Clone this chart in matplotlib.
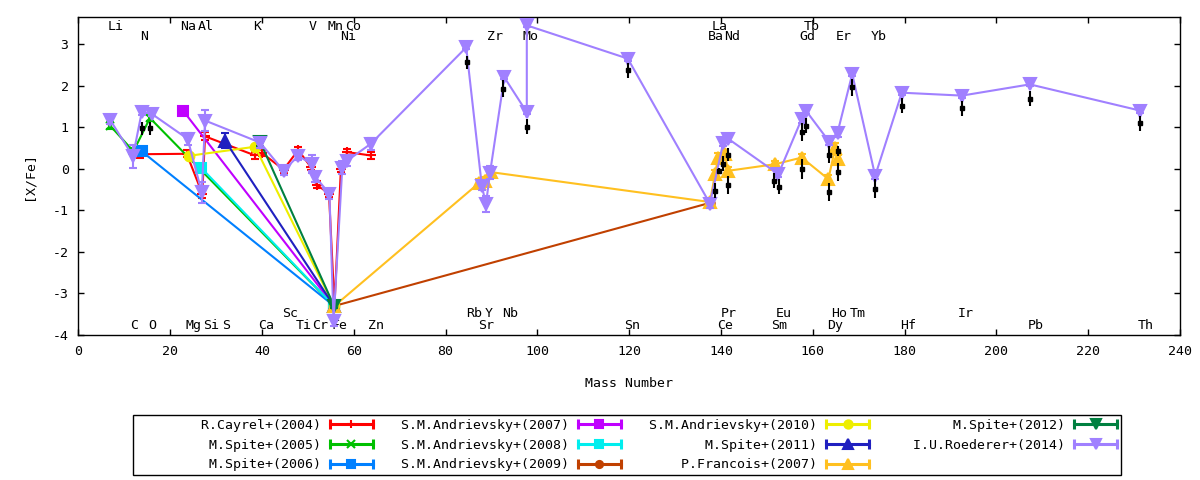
import matplotlib
matplotlib.use('Agg')
import matplotlib.pyplot as plt
from matplotlib.lines import Line2D
from matplotlib.legend_handler import HandlerLine2D, HandlerTuple

plt.rcParams['font.family'] = ['DejaVu Sans Mono']
plt.rcParams['font.size'] = 9.5
plt.rcParams['axes.unicode_minus'] = False

# element labels: symbol, x position, y position
top_syms = ['Li', 'Na', 'Al', 'K', 'V', 'Mn', 'Co', 'La', 'Tb']
top_x = [8.2, 23.9, 27.8, 38.9, 51.1, 56.1, 59.8, 139.8, 159.8]
top2_syms = ['N', 'Ni', 'Zr', 'Mo', 'Ba', 'Nd', 'Gd', 'Er', 'Yb']
top2_x = [14.3, 58.7, 90.8, 98.6, 138.9, 142.4, 158.8, 166.8, 174.4]
bot_syms = ['C', 'O', 'Mg', 'Si', 'S', 'Ca', 'Ti', 'Cr', 'Fe', 'Zn', 'Sr', 'Sn',
            'Ce', 'Sm', 'Dy', 'Hf', 'Pb', 'Th']
bot_x = [12.1, 16.1, 25.0, 28.9, 32.2, 40.9, 49.2, 52.7, 56.8, 64.9, 88.8, 120.6,
         140.9, 152.7, 164.9, 180.8, 208.6, 232.6]
bot2_syms = ['Sc', 'Rb', 'Y', 'Nb', 'Pr', 'Eu', 'Ho', 'Tm', 'Ir']
bot2_x = [46.1, 86.2, 89.3, 94.0, 141.7, 153.7, 165.7, 169.8, 193.4]

# data sets
cayrel_x = [13.5, 23.6, 27.0, 27.6, 38.5, 40.0, 44.7, 47.9, 50.6, 51.9, 54.6, 55.8, 57.2, 58.6, 63.7]
cayrel_y = [0.35, 0.36, -0.6, 0.78, 0.32, 0.38, -0.02, 0.45, 0.05, -0.38, -0.6, -3.3, 0.0, 0.4, 0.32]
cayrel_e = [0.08, 0.08, 0.1, 0.1, 0.08, 0.08, 0.08, 0.08, 0.08, 0.08, 0.08, 0.05, 0.08, 0.08, 0.08]

spite05_x = [6.9, 12.0, 15.6, 55.7]
spite05_y = [1.04, 0.42, 1.22, -3.3]
spite05_e = [0.08, 0.08, 0.08, 0.05]

spite06_x = [13.8, 55.7]
spite06_y = [0.42, -3.3]
spite06_e = [0.05, 0.05]

andr07_x = [22.8, 55.7]
andr07_y = [1.4, -3.3]
andr07_e = [0.05, 0.05]

andr08_x = [26.7, 55.7]
andr08_y = [0.03, -3.3]
andr08_e = [0.05, 0.05]

andr09_x = [55.8, 137.6]
andr09_y = [-3.3, -0.82]
andr09_e = [0.05, 0.05]

andr10_x = [24.0, 38.5, 55.7]
andr10_y = [0.31, 0.53, -3.3]
andr10_e = [0.05, 0.05, 0.05]

spite11_x = [32.0, 55.7]
spite11_y = [0.67, -3.3]
spite11_e = [0.18, 0.05]

francois_x = [55.8, 87.2, 88.6, 89.8, 137.6, 138.7, 139.4, 140.9, 141.5, 151.8, 157.6, 163.4, 164.9, 165.5]
francois_y = [-3.3, -0.35, -0.3, -0.08, -0.8, -0.13, 0.27, 0.35, -0.05, 0.11, 0.27, -0.25, 0.51, 0.23]
francois_e = [0.05, 0.1, 0.1, 0.1, 0.05, 0.1, 0.1, 0.1, 0.1, 0.08, 0.08, 0.1, 0.1, 0.1]

spite12_x = [39.6, 55.7]
spite12_y = [0.65, -3.3]
spite12_e = [0.1, 0.05]

roed_x = [6.9, 11.9, 13.8, 16.0, 23.8, 26.9, 27.6, 39.6, 44.7, 47.9, 50.8, 51.6, 54.7, 55.6,
          57.5, 58.5, 63.7, 84.5, 87.9, 88.8, 89.7, 92.8, 97.7, 97.7, 119.7, 137.6, 140.5,
          141.6, 152.5, 157.6, 158.5, 163.6, 165.4, 168.6, 173.6, 179.4, 192.5, 207.3, 231.3]
roed_y = [1.18, 0.3, 1.36, 1.32, 0.72, -0.57, 1.16, 0.63, -0.05, 0.31, 0.12, -0.19, -0.6, -3.67,
          0.03, 0.19, 0.6, 2.92, -0.41, -0.85, -0.09, 2.2, 1.36, 3.45, 2.65, -0.84, 0.63,
          0.72, -0.13, 1.2, 1.4, 0.65, 0.87, 2.28, -0.17, 1.83, 1.76, 2.03, 1.4]
roed_e = [0.1, 0.27, 0.06, 0.06, 0.14, 0.25, 0.25, 0.12, 0.1, 0.1, 0.22, 0.12, 0.12, 0.12,
          0.15, 0.12, 0.14, 0.05, 0.1, 0.2, 0.15, 0.05, 0.05, 0.05, 0.05, 0.1, 0.08,
          0.08, 0.08, 0.1, 0.08, 0.08, 0.1, 0.05, 0.08, 0.05, 0.05, 0.05, 0.05]

# black bars (no legend entry)
blk_x = [13.9, 15.6, 84.7, 92.5, 97.7, 119.8, 138.7, 139.6, 140.5, 141.5, 141.5, 151.6, 152.6,
         157.6, 158.5, 157.6, 163.6, 163.6, 165.5, 165.5, 168.6, 173.6, 179.4, 192.5, 207.3, 231.3]
blk_y = [0.97, 0.97, 2.56, 1.93, 1.01, 2.37, -0.53, -0.05, 0.12, 0.34, -0.39, -0.29, -0.43,
         0.89, 1.04, 0.0, 0.34, -0.56, 0.43, -0.07, 1.96, -0.48, 1.52, 1.45, 1.69, 1.09]
blk_e = [0.16, 0.16, 0.16, 0.2, 0.18, 0.18, 0.18, 0.08, 0.18, 0.16, 0.22, 0.18, 0.18,
         0.22, 0.17, 0.24, 0.2, 0.22, 0.12, 0.22, 0.2, 0.23, 0.19, 0.18, 0.18, 0.18]

series = [
    ('R.Cayrel+(2004)', cayrel_x, cayrel_y, cayrel_e, '#ff0000', '+', 7),
    ('M.Spite+(2005)', spite05_x, spite05_y, spite05_e, '#00c000', 'x', 6),
    ('M.Spite+(2006)', spite06_x, spite06_y, spite06_e, '#0080ff', 's', 7),
    ('S.M.Andrievsky+(2007)', andr07_x, andr07_y, andr07_e, '#c000ff', 's', 7),
    ('S.M.Andrievsky+(2008)', andr08_x, andr08_y, andr08_e, '#00eeee', 's', 7),
    ('S.M.Andrievsky+(2009)', andr09_x, andr09_y, andr09_e, '#c04000', 'o', 6),
    ('S.M.Andrievsky+(2010)', andr10_x, andr10_y, andr10_e, '#eeee00', 'o', 7),
    ('M.Spite+(2011)', spite11_x, spite11_y, spite11_e, '#2020c0', '^', 8),
    ('P.Francois+(2007)', francois_x, francois_y, francois_e, '#ffc020', '^', 8),
    ('M.Spite+(2012)', spite12_x, spite12_y, spite12_e, '#008040', 'v', 8),
    ('I.U.Roederer+(2014)', roed_x, roed_y, roed_e, '#a080ff', 'v', 8.5),
]

fig = plt.figure(figsize=(12, 4.8), dpi=100)
ax = fig.add_axes([0.0653, 0.302, 0.918, 0.6625])

handles = []
labels = []
hmap = {}
for i, (name, xs, ys, es, col, mk, ms) in enumerate(series):
    ax.errorbar(xs, ys, yerr=es, color=col, lw=1.5, elinewidth=1.5, capsize=3, capthick=1.5,
                marker=mk, ms=ms, mfc=col, mec=col, mew=1.5, zorder=3 + i * 0.1)
    cap = Line2D([], [], color=col, lw=2.2, marker='|', ms=7, mew=2.2)
    mid = Line2D([], [], color=col, lw=0, marker=mk, ms=ms * 0.85, mfc=col, mec=col, mew=1.5)
    hmap[cap] = HandlerLine2D(numpoints=2, marker_pad=0)
    handles.append((cap, mid))
    labels.append(name.rjust(23))

ax.errorbar(blk_x, blk_y, yerr=blk_e, color='black', lw=0, elinewidth=1.5, capsize=0,
            marker='s', ms=2.5, zorder=5)

for s, xv in zip(top_syms, top_x):
    ax.text(xv, 3.43, s, ha='center', va='center', zorder=1)
for s, xv in zip(top2_syms, top2_x):
    ax.text(xv, 3.19, s, ha='center', va='center', zorder=1)
for s, xv in zip(bot_syms, bot_x):
    ax.text(xv, -3.77, s, ha='center', va='center', zorder=1)
for s, xv in zip(bot2_syms, bot2_x):
    ax.text(xv, -3.48, s, ha='center', va='center', zorder=1)

ax.set_xlim(0, 240)
ax.set_ylim(-4, 3.65)
ax.set_xticks(range(0, 241, 20))
ax.set_yticks(range(-4, 4))
ax.tick_params(direction='in', top=True, right=True, length=4.5, width=1, pad=7)
for sp in ax.spines.values():
    sp.set_linewidth(1)
ax.set_xlabel('Mass Number', labelpad=14)
ax.set_ylabel('[X/Fe]', labelpad=12)

hmap[tuple] = HandlerTuple(ndivide=1)
leg = fig.legend(handles, labels, handler_map=hmap, ncol=4, loc='center',
                 bbox_to_anchor=(0.5225, 0.0729), bbox_transform=fig.transFigure,
                 fancybox=False, edgecolor='black', framealpha=1, markerfirst=False,
                 handlelength=3.26, handletextpad=0.68, columnspacing=0.93,
                 labelspacing=0.52, borderpad=0.3)
leg.get_frame().set_linewidth(1)

fig.savefig('out.png', dpi=100)
